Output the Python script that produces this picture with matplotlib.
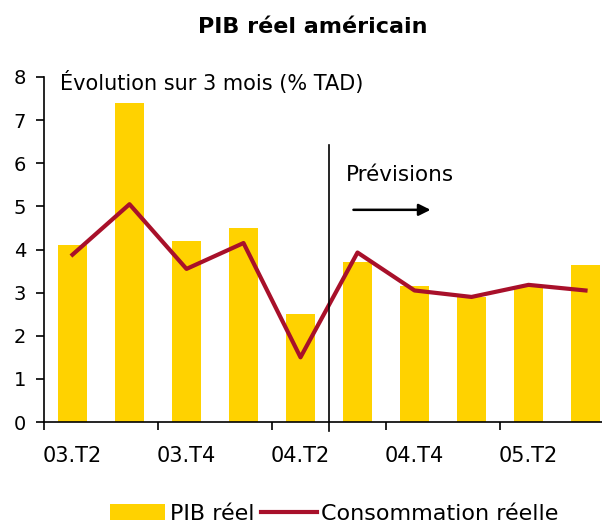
import matplotlib.pyplot as plt
from matplotlib.patches import Patch
from matplotlib.lines import Line2D

# Data
quarters = ["03.T2", "03.T3", "03.T4", "04.T1", "04.T2",
            "04.T3", "04.T4", "05.T1", "05.T2", "05.T3"]
pib_reel = [4.1, 7.4, 4.2, 4.5, 2.5, 3.7, 3.15, 2.9, 3.15, 3.65]
conso_reelle = [3.88, 5.05, 3.55, 4.15, 1.5, 3.93, 3.05, 2.9, 3.18, 3.05]
shown_labels = ["03.T2", "03.T4", "04.T2", "04.T4", "05.T2"]

YELLOW = "#FFD200"
RED = "#A8102A"

plt.rcParams["font.family"] = "DejaVu Sans"

fig = plt.figure(figsize=(6.02, 5.23), dpi=100)
ax = fig.add_axes([44 / 602, 101 / 523, 558 / 602, 345 / 523])

x = list(range(len(quarters)))
ax.bar(x, pib_reel, width=0.5, color=YELLOW, zorder=2)
ax.plot(x, conso_reelle, color=RED, linewidth=3, zorder=3)

ax.set_xlim(-0.5, -0.5 + 558 / 57)
ax.set_ylim(0, 8)

# forecast separator
split = quarters.index("04.T2") + 0.5
ax.plot([split, split], [-0.2, 6.43], color="black", linewidth=1.2,
        clip_on=False, zorder=4)

ax.text(-0.22, 7.87, "Évolution sur 3 mois (% TAD)", fontsize=15,
        va="center", ha="left")
ax.text(4.79, 5.73, "Prévisions", fontsize=15.5, va="center", ha="left")
ax.annotate("", xy=(6.33, 4.92), xytext=(4.88, 4.92),
            arrowprops=dict(arrowstyle="-|>,head_length=0.7,head_width=0.35",
                            color="black", lw=1.8))

# axes styling
for s in ["top", "right"]:
    ax.spines[s].set_visible(False)
ax.spines["left"].set_linewidth(1.2)
ax.spines["bottom"].set_linewidth(1.2)

ax.set_yticks(range(0, 9))
ax.tick_params(axis="y", labelsize=14, direction="out", length=6, width=1.2,
               pad=7)

label_pos = [quarters.index(q) for q in shown_labels]
ax.set_xticks(label_pos)
ax.set_xticklabels(shown_labels, fontsize=15)
ax.tick_params(axis="x", which="major", length=0, pad=17)
ax.set_xticks([p - 0.5 for p in label_pos], minor=True)
ax.tick_params(axis="x", which="minor", direction="out", length=6, width=1.2)

fig.suptitle("PIB réel américain", fontsize=16, fontweight="bold",
             x=0.52, y=0.948, va="center")

handles = [Patch(facecolor=YELLOW, edgecolor="none"),
           Line2D([0], [0], color=RED, linewidth=3)]
fig.legend(handles, ["PIB réel", "Consommation réelle"], loc="center",
           bbox_to_anchor=(0.555, 0.017), ncol=2, frameon=False, fontsize=16,
           handlelength=2.5, handleheight=0.72, handletextpad=0.2,
           columnspacing=0.3, borderpad=0)

fig.savefig("out.png", dpi=100)
